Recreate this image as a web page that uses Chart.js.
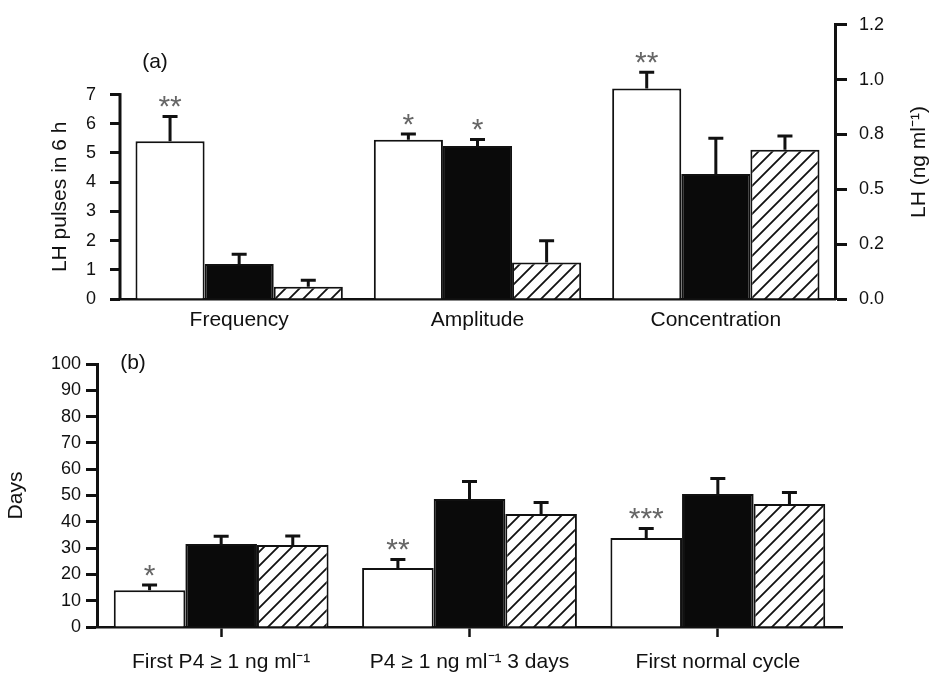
<!DOCTYPE html>
<html>
<head>
<meta charset="utf-8">
<script src="https://cdn.jsdelivr.net/npm/chart.js@4.4.1/dist/chart.umd.min.js"></script>
<style>
  html, body { margin: 0; padding: 0; background: #fff; }
  #wrap { position: relative; width: 929px; height: 676px; }
  #pulseBox { position: absolute; left: 0; top: 0; width: 929px; height: 340px; }
  #daysBox { position: absolute; left: 0; top: 335px; width: 929px; height: 341px; }
</style>
</head>
<body>
<div id="wrap">
  <div id="pulseBox"><canvas id="pulseChart"></canvas></div>
  <div id="daysBox"><canvas id="daysChart"></canvas></div>
</div>
<script>
const family = "'Liberation Sans', Arial, Helvetica, sans-serif";
const ink = '#111';
Chart.defaults.font.family = family;
Chart.defaults.color = ink;

// (a) LH secretion: pulse frequency / amplitude on the left axis, mean concentration on the right
const lhCategories = ['Frequency', 'Amplitude', 'Concentration'];
const lhOpen = [5.4, 5.45, 0.96];
const lhOpenSem = [0.9, 0.25, 0.08];
const lhSolid = [1.2, 5.24, 0.57];
const lhSolidSem = [0.38, 0.27, 0.17];
const lhHatched = [0.42, 1.25, 0.68];
const lhHatchedSem = [0.27, 0.8, 0.07];
const lhOpenStars = ['**', '*', '**'];
const lhSolidStars = ['', '*', ''];
const lhHatchedStars = ['', '', ''];
const concIndex = 2; // this category

const pulseTicks = [0, 1, 2, 3, 4, 5, 6, 7];
const concTicks = [0, 0.25, 0.5, 0.75, 1.0, 1.25];
const concTickLabels = ['0.0', '0.2', '0.5', '0.8', '1.0', '1.2'];

// (b) days post partum to resumption of luteal activity
const dayCategories = ['First P4 \u2265 1 ng ml\u207B\u00B9', 'P4 \u2265 1 ng ml\u207B\u00B9 3 days', 'First normal cycle'];
const daysOpen = [14, 22.4, 33.8];
const daysOpenSem = [2.5, 3.8, 4.2];
const daysSolid = [31.6, 48.7, 50.6];
const daysSolidSem = [3.5, 7.2, 6.4];
const daysHatched = [31.2, 43, 46.8];
const daysHatchedSem = [4, 4.9, 4.9];
const daysOpenStars = ['*', '**', '***'];
const daysTicks = [0, 10, 20, 30, 40, 50, 60, 70, 80, 90, 100];

// diagonal hatch fill
function hatch(ctx) {
  const size = 14;
  const c = document.createElement('canvas');
  c.width = size; c.height = size;
  const g = c.getContext('2d');
  g.fillStyle = '#fff';
  g.fillRect(0, 0, size, size);
  g.strokeStyle = ink;
  g.lineWidth = 1.8;
  g.beginPath();
  g.moveTo(-2, size + 2); g.lineTo(size + 2, -2);
  g.moveTo(-2, 2); g.lineTo(2, -2);
  g.moveTo(size - 2, size + 2); g.lineTo(size + 2, size - 2);
  g.stroke();
  return ctx.createPattern(c, 'repeat');
}

// T-shaped SEM bars plus significance stars
const errorBars = {
  id: 'errorBars',
  afterDatasetsDraw(chart) {
    const ctx = chart.ctx;
    chart.data.datasets.forEach((ds, i) => {
      const meta = chart.getDatasetMeta(i);
      const scale = chart.scales[meta.yAxisID];
      meta.data.forEach((bar, j) => {
        const v = ds.data[j];
        if (v === null || v === undefined) return;
        const top = scale.getPixelForValue(v + ds.errors[j]);
        ctx.save();
        ctx.strokeStyle = ink;
        ctx.lineWidth = 3;
        ctx.beginPath();
        ctx.moveTo(bar.x, bar.y);
        ctx.lineTo(bar.x, top + 1.5);
        ctx.moveTo(bar.x - 7.5, top + 1.5);
        ctx.lineTo(bar.x + 7.5, top + 1.5);
        ctx.stroke();
        const star = ds.stars ? ds.stars[j] : '';
        if (star) {
          ctx.font = '30px ' + family;
          ctx.fillStyle = '#666';
          ctx.textAlign = 'center';
          ctx.textBaseline = 'alphabetic';
          ctx.fillText(star, bar.x, top + 1);
        }
        ctx.restore();
      });
    });
  }
};

function rotatedText(ctx, text, x, y, size) {
  ctx.save();
  ctx.translate(x, y);
  ctx.rotate(-Math.PI / 2);
  ctx.font = size + 'px ' + family;
  ctx.fillStyle = ink;
  ctx.textAlign = 'center';
  ctx.textBaseline = 'middle';
  ctx.fillText(text, 0, 0);
  ctx.restore();
}

function plainText(ctx, text, x, y, size) {
  ctx.save();
  ctx.font = size + 'px ' + family;
  ctx.fillStyle = ink;
  ctx.textAlign = 'center';
  ctx.textBaseline = 'middle';
  ctx.fillText(text, x, y);
  ctx.restore();
}

// ---------- panel (a) ----------
const pulseCtx = document.getElementById('pulseChart').getContext('2d');
const pulseFill = ['#fff', '#0a0a0a', hatch(pulseCtx)];
const pulseGroups = [
  { values: lhOpen, sem: lhOpenSem, stars: lhOpenStars },
  { values: lhSolid, sem: lhSolidSem, stars: lhSolidStars },
  { values: lhHatched, sem: lhHatchedSem, stars: lhHatchedStars }
];
const pulseDatasets = [];
[false, true].forEach(onRight => {
  pulseGroups.forEach((g, k) => {
    pulseDatasets.push({
      data: g.values.map((v, i) => ((i === concIndex) === onRight ? v : null)),
      errors: g.sem,
      stars: g.stars,
      yAxisID: onRight ? 'y2' : 'y',
      backgroundColor: pulseFill[k],
      borderColor: ink,
      borderWidth: 2,
      skipNull: true,
      barPercentage: 1,
      categoryPercentage: 0.87
    });
  });
});

const pulseExtras = {
  id: 'pulseExtras',
  afterDraw(chart) {
    const ctx = chart.ctx;
    const y = chart.scales.y;
    // left axis only runs up to the last pulse tick
    ctx.save();
    ctx.strokeStyle = ink;
    ctx.lineWidth = 3;
    ctx.beginPath();
    ctx.moveTo(chart.chartArea.left, y.getPixelForValue(0) + 1);
    ctx.lineTo(chart.chartArea.left, y.getPixelForValue(pulseTicks[pulseTicks.length - 1]) - 1.5);
    ctx.stroke();
    ctx.restore();
    const mid = (y.getPixelForValue(0) + y.getPixelForValue(pulseTicks[pulseTicks.length - 1])) / 2;
    rotatedText(ctx, 'LH pulses in 6 h', 60, mid, 21);
    rotatedText(ctx, 'LH (ng ml\u207B\u00B9)', 919, 162, 21);
    plainText(ctx, '(a)', 155, 62, 21);
  }
};

new Chart(pulseCtx, {
  type: 'bar',
  data: { labels: lhCategories, datasets: pulseDatasets },
  options: {
    responsive: true,
    maintainAspectRatio: false,
    animation: false,
    layout: { padding: { left: 0, right: 0, top: 16, bottom: 0 } },
    plugins: { legend: { display: false }, tooltip: { enabled: false } },
    scales: {
      x: {
        grid: { display: false },
        border: { display: true, color: ink, width: 2.5 },
        ticks: { font: { size: 21 }, color: ink, padding: 1 },
        afterFit: s => { s.height = 41; }
      },
      y: {
        position: 'left',
        min: 0,
        max: 9.39,
        afterBuildTicks: s => { s.ticks = pulseTicks.map(v => ({ value: v })); },
        afterFit: s => { s.width = 120; },
        border: { display: false },
        grid: { drawOnChartArea: false, tickLength: 10, tickWidth: 3, tickColor: ink },
        ticks: { font: { size: 18 }, color: ink, padding: 14 }
      },
      y2: {
        position: 'right',
        min: 0,
        max: 1.25,
        afterBuildTicks: s => { s.ticks = concTicks.map(v => ({ value: v })); },
        afterFit: s => { s.width = 94; },
        border: { display: true, color: ink, width: 3 },
        grid: { drawOnChartArea: false, tickLength: 12, tickWidth: 3, tickColor: ink },
        ticks: { font: { size: 18 }, color: ink, padding: 12, callback: (v, i) => concTickLabels[i] }
      }
    }
  },
  plugins: [errorBars, pulseExtras]
});

// ---------- panel (b) ----------
const daysCtx = document.getElementById('daysChart').getContext('2d');
const daysExtras = {
  id: 'daysExtras',
  afterDraw(chart) {
    plainText(chart.ctx, '(b)', 133, 28, 21);
  }
};

new Chart(daysCtx, {
  type: 'bar',
  data: {
    labels: dayCategories,
    datasets: [
      { data: daysOpen, errors: daysOpenSem, stars: daysOpenStars, backgroundColor: '#fff' },
      { data: daysSolid, errors: daysSolidSem, stars: [], backgroundColor: '#0a0a0a' },
      { data: daysHatched, errors: daysHatchedSem, stars: [], backgroundColor: hatch(daysCtx) }
    ].map(ds => Object.assign(ds, {
      borderColor: ink,
      borderWidth: 2,
      barPercentage: 1,
      categoryPercentage: 0.865
    }))
  },
  options: {
    responsive: true,
    maintainAspectRatio: false,
    animation: false,
    layout: { padding: { left: 0, right: 87, top: 29, bottom: 0 } },
    plugins: { legend: { display: false }, tooltip: { enabled: false } },
    scales: {
      x: {
        grid: { display: true, drawOnChartArea: false, offset: false, tickLength: 10, tickWidth: 2.5, tickColor: ink },
        border: { display: true, color: ink, width: 2.5 },
        ticks: { font: { size: 21 }, color: ink, padding: 13 },
        afterFit: s => { s.height = 49; }
      },
      y: {
        min: 0,
        max: 100,
        afterBuildTicks: s => { s.ticks = daysTicks.map(v => ({ value: v })); },
        afterFit: s => { s.width = 97; },
        border: { display: true, color: ink, width: 3 },
        grid: { drawOnChartArea: false, tickLength: 11, tickWidth: 3, tickColor: ink },
        ticks: { font: { size: 18 }, color: ink, padding: 5 },
        title: { display: true, text: 'Days', font: { size: 21 }, color: ink, padding: { top: 4 } }
      }
    }
  },
  plugins: [errorBars, daysExtras]
});
</script>
</body>
</html>
